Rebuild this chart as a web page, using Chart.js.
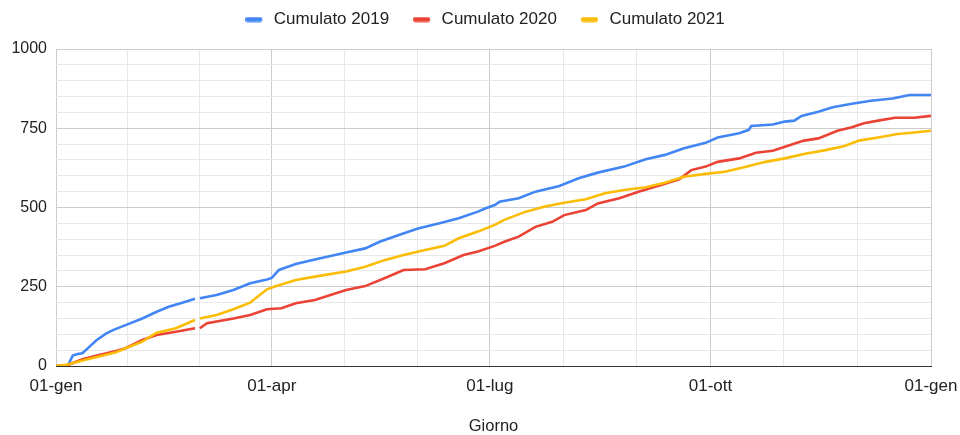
<!DOCTYPE html>
<html><head><meta charset="utf-8">
<script src="https://cdn.jsdelivr.net/npm/chart.js@4"></script>
<style>html,body{margin:0;padding:0;background:#fff;}</style>
</head><body>
<canvas id="c" width="960" height="435"></canvas>
<script>
const seriesNames = ['Cumulato 2019', 'Cumulato 2020', 'Cumulato 2021'];
const seriesColors = ['#4285F4', '#EA4335', '#FBBC04'];

const days2019 = [0,5,7,9,11,14,17,21,24,29,36,42,47,53,58,59,60,67,74,81,88,90,93,100,108,121,129,135,143,151,160,168,176,179,183,185,193,200,210,218,226,237,246,254,262,271,276,285,289,290,299,304,308,311,318,324,332,340,349,356,365];
const values2019 = [0,2,33,38,40,61,82,103,114,129,150,171,187,200,212,null,214,224,240,261,273,278,303,322,336,358,371,392,413,434,450,466,487,497,508,518,529,550,568,592,610,629,652,666,687,704,721,734,745,757,762,771,774,789,802,816,827,837,844,855,855];

const days2020 = [0,5,11,18,25,29,36,42,50,58,59,60,63,74,81,88,94,100,108,121,129,137,145,154,162,170,176,183,187,193,200,207,212,221,226,235,243,251,260,265,271,276,285,292,299,305,312,318,326,332,337,343,350,358,365];
const values2020 = [0,3,21,35,47,56,82,98,108,119,null,119,135,150,161,179,182,198,208,240,252,277,303,305,324,350,361,379,392,408,439,455,476,492,513,529,550,568,589,618,629,644,655,673,679,694,711,718,742,753,766,774,783,783,789];

const days2021 = [0,5,11,18,25,29,36,42,50,58,59,60,67,74,81,88,91,100,108,121,129,137,145,154,162,168,176,183,187,196,204,212,221,229,237,246,254,262,271,279,287,296,304,312,321,329,335,343,351,357,365];
const values2021 = [0,5,17,30,43,56,77,105,119,145,null,150,161,179,200,242,250,271,282,298,313,334,350,366,379,403,424,445,461,487,503,515,526,545,555,564,578,597,606,613,627,644,655,669,681,694,711,721,732,736,742];

const majorDays = [0, 90, 181, 273, 365];
const majorLabels = ['01-gen', '01-apr', '01-lug', '01-ott', '01-gen'];
const yMajorStep = 250;
const yMinorStep = 50;
const xTitle = 'Giorno';

const FONT = '"Liberation Sans", Arial, sans-serif';
const TEXT = '#222222';
const MAJOR_GRID = '#cccccc';
const MINOR_GRID = '#e8e8e8';

function legendBar(color) {
  const c = document.createElement('canvas');
  c.width = 20; c.height = 6;
  const g = c.getContext('2d');
  g.fillStyle = color;
  g.beginPath();
  if (g.roundRect) g.roundRect(0, 0.5, 17, 5, 2); else g.rect(0, 0.5, 17, 5);
  g.fill();
  return c;
}

function pts(days, vals) { return days.map((d, i) => ({x: d, y: vals[i]})); }

const allDays = [days2019, days2020, days2021];
const allVals = [values2019, values2020, values2021];

const datasets = seriesNames.map((name, i) => ({
  label: name,
  data: pts(allDays[i], allVals[i]),
  borderColor: seriesColors[i],
  backgroundColor: seriesColors[i],
  borderWidth: 2.6,
  pointRadius: 0,
  pointHoverRadius: 0,
  pointStyle: legendBar(seriesColors[i]),
  tension: 0,
  spanGaps: false,
  order: 3 - i
}));

function xTickValues() {
  const out = [];
  for (let k = 0; k < majorDays.length - 1; k++) {
    const a = majorDays[k], b = majorDays[k + 1];
    out.push(a, a + (b - a) / 3, a + 2 * (b - a) / 3);
  }
  out.push(majorDays[majorDays.length - 1]);
  return out;
}

const legendShift = {
  id: 'legendShift',
  afterLayout(chart) {
    if (chart.legend) { chart.legend.top -= 11; chart.legend.bottom -= 11; }
  }
};

new Chart(document.getElementById('c'), {
  type: 'line',
  data: { datasets },
  plugins: [legendShift],
  options: {
    responsive: false,
    animation: false,
    devicePixelRatio: 1,
    layout: { padding: { left: 10, right: 0, top: -13, bottom: 0 } },
    plugins: {
      tooltip: { enabled: false },
      legend: {
        position: 'top',
        align: 'center',
        labels: {
          usePointStyle: true,
          pointStyleWidth: 20,
          boxHeight: 6,
          padding: 24,
          color: TEXT,
          font: { family: FONT, size: 17 },
          sort: (a, b) => a.datasetIndex - b.datasetIndex
        }
      }
    },
    scales: {
      x: {
        type: 'linear',
        min: majorDays[0],
        max: majorDays[majorDays.length - 1],
        afterBuildTicks: (s) => { s.ticks = xTickValues().map(v => ({value: v})); },
        afterFit: (s) => { s.height = 69; s.paddingRight = 29; },
        ticks: {
          autoSkip: false,
          maxRotation: 0,
          padding: 10,
          color: TEXT,
          font: { family: FONT, size: 17 },
          callback: (v) => { const k = majorDays.indexOf(v); return k >= 0 ? majorLabels[k] : ''; }
        },
        grid: {
          drawTicks: false,
          lineWidth: 1,
          color: (c) => (c.tick && majorDays.indexOf(c.tick.value) >= 0) ? MAJOR_GRID : MINOR_GRID
        },
        border: { display: true, color: '#333333', width: 1 },
        title: {
          display: true,
          text: xTitle,
          color: TEXT,
          font: { family: FONT, size: 16.5, lineHeight: 1 },
          padding: { top: 0, bottom: 0 }
        }
      },
      y: {
        min: 0,
        max: 1000,
        afterFit: (s) => { s.width = 46; s.paddingTop = 49; },
        ticks: {
          stepSize: yMinorStep,
          autoSkip: false,
          padding: 9,
          color: TEXT,
          font: { family: FONT, size: 16 },
          callback: (v) => (v % yMajorStep === 0) ? String(v) : ''
        },
        grid: {
          drawTicks: false,
          lineWidth: 1,
          color: (c) => (c.tick && c.tick.value % yMajorStep === 0) ? MAJOR_GRID : MINOR_GRID
        },
        border: { display: false }
      }
    }
  }
});
</script>
</body></html>
